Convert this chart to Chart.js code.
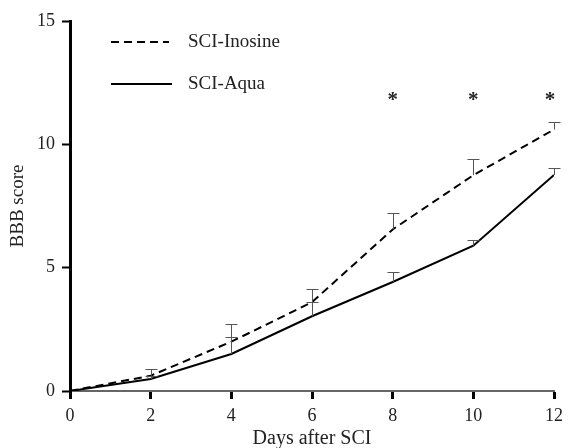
<!DOCTYPE html>
<html>
<head>
<meta charset="utf-8">
<script src="https://cdn.jsdelivr.net/npm/chart.js@4.4.1/dist/chart.umd.min.js"></script>
<style>
  html, body { margin: 0; padding: 0; background: #fff; }
  #wrap { width: 569px; height: 448px; }
</style>
</head>
<body>
<div id="wrap"><canvas id="c" width="569" height="448"></canvas></div>
<script>
const days = [0, 2, 4, 6, 8, 10, 12];
const inosineMean = [0, 0.62, 2.0, 3.6, 6.55, 8.75, 10.6];
const inosineErr  = [0, 0.28, 0.7, 0.52, 0.65, 0.65, 0.3];
const aquaMean    = [0, 0.49, 1.5, 3.03, 4.42, 5.89, 8.76];
const aquaErr     = [0, 0.1, 0.7, 0.57, 0.42, 0.23, 0.29];
const starDays    = [8, 10, 12];
const starLevel   = 11.9;
const seriesLabels = ['SCI-Inosine', 'SCI-Aqua'];

const FONT = "'Liberation Serif', 'DejaVu Serif', serif";

const errorBars = {
  id: 'errorBars',
  afterDatasetsDraw(chart) {
    const ctx = chart.ctx, xs = chart.scales.x, ys = chart.scales.y;
    const sets = [[inosineMean, inosineErr], [aquaMean, aquaErr]];
    ctx.save();
    ctx.strokeStyle = '#555';
    ctx.lineWidth = 1;
    sets.forEach(([m, e]) => {
      days.forEach((d, i) => {
        if (!e[i]) return;
        const x = Math.round(xs.getPixelForValue(d)) + 0.5;
        const y0 = ys.getPixelForValue(m[i]);
        const y1 = Math.round(ys.getPixelForValue(m[i] + e[i])) + 0.5;
        ctx.beginPath();
        ctx.moveTo(x, y0); ctx.lineTo(x, y1);
        ctx.moveTo(x - 6, y1); ctx.lineTo(x + 6, y1);
        ctx.stroke();
      });
    });
    ctx.fillStyle = '#222';
    ctx.font = "bold 21px " + FONT;
    ctx.textAlign = 'center';
    ctx.textBaseline = 'middle';
    starDays.forEach((d, i) => {
      ctx.fillText('*', xs.getPixelForValue(d) - (i === starDays.length - 1 ? 4 : 0), ys.getPixelForValue(starLevel) + 3);
    });
    ctx.restore();
  }
};

const legendPlugin = {
  id: 'customLegend',
  afterDraw(chart) {
    const ctx = chart.ctx, a = chart.chartArea;
    const x0 = a.left + 41, x1 = a.left + 102;
    const rows = [a.top + 21, a.top + 63];
    ctx.save();
    ctx.strokeStyle = '#000';
    ctx.lineWidth = 2;
    ctx.fillStyle = '#222';
    ctx.font = "19px " + FONT;
    ctx.textAlign = 'left';
    ctx.textBaseline = 'middle';
    rows.forEach((y, i) => {
      ctx.setLineDash(i === 0 ? [8, 5] : []);
      ctx.beginPath();
      ctx.moveTo(x0, y); ctx.lineTo(i === 0 ? x1 - 3 : x1, y);
      ctx.stroke();
      ctx.fillText(seriesLabels[i], a.left + 118, y);
    });
    ctx.restore();
  }
};

new Chart(document.getElementById('c'), {
  type: 'line',
  data: {
    datasets: [
      {
        label: seriesLabels[0],
        data: days.map((d, i) => ({ x: d, y: inosineMean[i] })),
        borderColor: '#000',
        borderWidth: 2,
        borderDash: [8, 5],
        pointRadius: 0,
        tension: 0,
        fill: false
      },
      {
        label: seriesLabels[1],
        data: days.map((d, i) => ({ x: d, y: aquaMean[i] })),
        borderColor: '#000',
        borderWidth: 2,
        pointRadius: 0,
        tension: 0,
        fill: false
      }
    ]
  },
  options: {
    responsive: false,
    animation: false,
    layout: { padding: { top: 21, right: 14, left: 0, bottom: 0 } },
    plugins: { legend: { display: false }, tooltip: { enabled: false } },
    scales: {
      x: {
        type: 'linear',
        min: 0, max: 12,
        ticks: { stepSize: 2, color: '#222', font: { family: FONT, size: 18 }, padding: 6, maxRotation: 0 },
        grid: { drawOnChartArea: false, drawTicks: true, tickLength: 8, tickWidth: 3, tickColor: '#000' },
        border: { color: '#666', width: 2 },
        title: { display: true, text: 'Days after SCI', color: '#222', font: { family: FONT, size: 20 }, padding: { top: 0, bottom: -3 } },
        afterFit(s) { s.height = 57; }
      },
      y: {
        min: 0, max: 15,
        ticks: { stepSize: 5, color: '#222', font: { family: FONT, size: 18 }, padding: 7 },
        grid: { drawOnChartArea: false, drawTicks: true, tickLength: 8, tickWidth: 2, tickColor: '#000' },
        border: { color: '#000', width: 3 },
        title: { display: true, text: 'BBB score', color: '#222', font: { family: FONT, size: 19 }, padding: { top: 7, bottom: 0 } },
        afterFit(s) { s.width = 70; }
      }
    }
  },
  plugins: [errorBars, legendPlugin]
});
</script>
</body>
</html>
